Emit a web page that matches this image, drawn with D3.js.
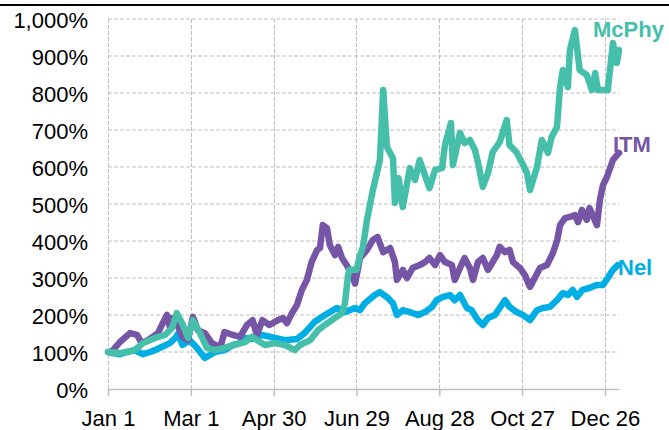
<!DOCTYPE html>
<html>
<head>
<meta charset="utf-8">
<script src="https://cdn.jsdelivr.net/npm/d3@7"></script>
<style>
  html, body { margin: 0; padding: 0; background: #fff; }
  svg { display: block; }
  text { font-family: "Liberation Sans", Arial, sans-serif; }
</style>
</head>
<body>
<svg id="chart" width="669" height="430"></svg>
<script>
// ---- data (day of year from Jan 1, value in %) ----
const xTickDays = [0, 59, 118, 177, 236, 295, 354];
const xTickLabels = ["Jan 1", "Mar 1", "Apr 30", "Jun 29", "Aug 28", "Oct 27", "Dec 26"];
const yTicks = [0, 100, 200, 300, 400, 500, 600, 700, 800, 900, 1000];
const seriesNames = ["Nel", "ITM", "McPhy"];

const nel = [[0,100],[3.6,97],[8.5,94],[14,100],[19,105],[25,94],[30,100],[33.5,105],[39,115],[44,124],[48,138],[50,150],[53,119],[58,132],[63,113],[69,84],[73,92],[76,100],[83,105],[89,119],[94,124],[97.6,138],[102.6,135],[109.7,146],[119,138],[126,132],[134.6,135],[140,151],[147,181],[154.6,200],[163,219],[169,208],[176,219],[179.5,213],[183,232],[190,254],[193.7,262],[199.4,246],[203,232],[205.8,200],[210,213],[215,208],[220.8,200],[225.8,208],[230.8,222],[234,240],[238.6,249],[243.6,254],[247,240],[250.7,254],[255.7,219],[259,213],[263.5,186],[267,173],[270.7,192],[275.6,200],[279,219],[282.8,240],[286,222],[291,208],[295.6,200],[300.6,186],[305.6,213],[309.8,219],[314.8,222],[319.8,240],[324,259],[327.6,254],[331,268],[334,249],[338,268],[343,273],[348,281],[352.6,281],[356,300],[359.7,322],[363.2,335]];

const itm = [[1.4,100],[3.6,105],[8.5,127],[15.7,151],[20.7,146],[24,124],[28.5,132],[35.6,151],[39,178],[42,200],[44,168],[46,192],[50,168],[53,141],[57,132],[60.5,195],[64,159],[69,151],[74,124],[80,113],[83,154],[89,146],[94,141],[99,173],[103,186],[106,146],[110,186],[115,173],[121,186],[124.6,192],[127.5,178],[131,205],[134.6,227],[138,267],[141.7,295],[145,343],[149,376],[151,381],[153,443],[156,435],[158,389],[161.7,362],[164,384],[166.7,354],[170,335],[173.8,308],[176,285],[179.5,354],[184.5,376],[188.7,403],[192,411],[196,370],[201,381],[204.4,343],[205.8,295],[210,322],[213,300],[217,327],[222,335],[225.8,343],[229,354],[233,335],[236.5,362],[240,343],[245,335],[247,295],[250.7,327],[254,354],[257.8,327],[260,295],[263.5,343],[267,354],[270.7,322],[277,362],[279,384],[282.8,370],[286,376],[288.5,343],[293.4,327],[297,308],[299,289],[300.6,276],[304,300],[307.7,327],[312.7,335],[317,368],[320,403],[322,443],[325.5,462],[329,465],[332.6,470],[334.8,451],[337.6,484],[341,457],[343,489],[348.3,443],[350.4,511],[352.6,551],[355.4,573],[359.7,619],[364,638]];

const mcphy = [[0,100],[8.5,97],[19,105],[25,124],[33.5,138],[40.6,146],[45.6,165],[49,205],[53.4,173],[57,138],[60.5,186],[65.5,151],[70.5,111],[76,105],[83,111],[90,119],[97.6,127],[102.6,141],[111.8,119],[119,124],[126,119],[133,105],[136.8,119],[144,132],[149.6,159],[154.6,173],[161.7,192],[166.7,205],[168.8,232],[171,308],[172,322],[177,322],[179.5,360],[181.6,384],[184.5,457],[188.7,538],[193.7,619],[196,808],[198.7,654],[203,624],[204.4,503],[207,570],[210,492],[215,597],[218.7,565],[222,619],[229,543],[233,592],[238,597],[240,659],[244.3,719],[245.7,605],[250.7,692],[254,665],[257.8,673],[261.4,646],[263.5,613],[267,546],[270.7,584],[274,640],[279,667],[284,727],[286,659],[291,640],[295,611],[298.4,584],[300.6,538],[305.6,600],[309,673],[313.4,638],[316,681],[319.8,708],[322,816],[324,862],[327.6,816],[329,916],[332.6,970],[336,862],[341,849],[344.7,808],[347,854],[349,808],[356,808],[359.7,935],[362.5,881],[364,916]];

const seriesData = [nel, itm, mcphy];
const seriesColors = ["#00AEE4", "#7654A6", "#45BFA9"];

// ---- layout ----
const svg = d3.select("#chart");
const x = d3.scaleLinear().domain([0, 364]).range([108, 619]);
const y = d3.scaleLinear().domain([0, 1000]).range([389, 19]);

// top rule
svg.append("rect").attr("x", 0).attr("y", 4).attr("width", 669).attr("height", 2).attr("fill", "#000");

// horizontal gridlines
svg.append("g").selectAll("line").data(yTicks.filter(d => d > 0)).join("line")
  .attr("x1", x(0)).attr("x2", x(364))
  .attr("y1", d => y(d)).attr("y2", d => y(d))
  .attr("stroke", "#BFBFBF").attr("stroke-width", 1).attr("stroke-dasharray", "4,2");

// vertical gridlines
svg.append("g").selectAll("line").data(xTickDays).join("line")
  .attr("x1", d => Math.round(x(d)) + 0.5).attr("x2", d => Math.round(x(d)) + 0.5)
  .attr("y1", y(1000)).attr("y2", y(0))
  .attr("stroke", "#BFBFBF").attr("stroke-width", 1).attr("stroke-dasharray", "4,2");

// x axis
const xAxis = d3.axisBottom(x).tickValues(xTickDays).tickFormat((d, i) => xTickLabels[i])
  .tickSize(7).tickSizeOuter(0).tickPadding(14);
const gx = svg.append("g").attr("transform", `translate(0,${y(0)})`).call(xAxis);
gx.select(".domain").attr("stroke", "#BFBFBF").attr("stroke-width", 1.5);
gx.selectAll(".tick line").attr("stroke", "#BFBFBF").attr("stroke-width", 1.5);
gx.selectAll(".tick text").attr("font-size", 22).attr("fill", "#000")
  .attr("font-family", "Liberation Sans, Arial, sans-serif").attr("dy", "0.71em");

// y axis labels
const yAxis = d3.axisLeft(y).tickValues(yTicks).tickFormat(d => d3.format(",")(d) + "%")
  .tickSize(0).tickPadding(20);
const gy = svg.append("g").attr("transform", `translate(${x(0)},0)`).call(yAxis);
gy.select(".domain").remove();
gy.selectAll(".tick text").attr("font-size", 22).attr("fill", "#000")
  .attr("font-family", "Liberation Sans, Arial, sans-serif").attr("dy", "0.4em");

// lines
const line = d3.line().x(d => x(d[0])).y(d => y(d[1])).curve(d3.curveLinear);
svg.append("g").selectAll("path").data(seriesData).join("path")
  .attr("d", line)
  .attr("fill", "none")
  .attr("stroke", (d, i) => seriesColors[i])
  .attr("stroke-width", 6.5)
  .attr("stroke-linejoin", "round")
  .attr("stroke-linecap", "round");

// series labels
const labelPos = [
  { dx: -1, dy: 10 },    // Nel
  { dx: -6, dy: -1 },    // ITM
  { dx: -26, dy: -13 }   // McPhy
];
svg.append("g").selectAll("text").data(seriesNames).join("text")
  .attr("x", (d, i) => x(364) + labelPos[i].dx)
  .attr("y", (d, i) => y(seriesData[i][seriesData[i].length - 1][1]) + labelPos[i].dy)
  .attr("fill", (d, i) => seriesColors[i])
  .attr("font-size", 22).attr("font-weight", "bold")
  .text(d => d);
</script>
</body>
</html>
